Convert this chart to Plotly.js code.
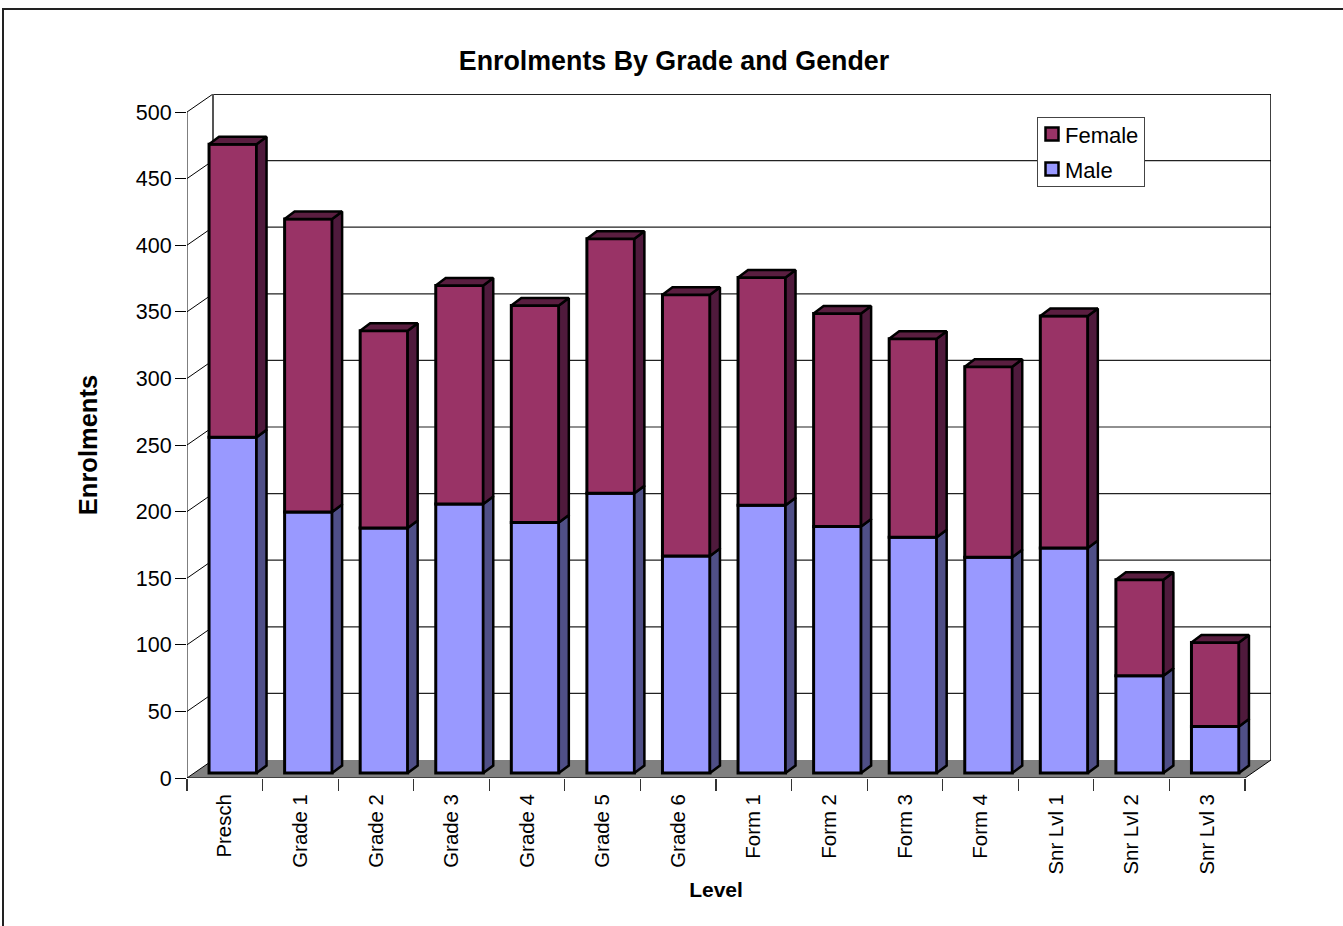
<!DOCTYPE html>
<html>
<head>
<meta charset="utf-8">
<script src="https://cdn.plot.ly/plotly-3.0.1.min.js"></script>
<style>
html,body{margin:0;padding:0;background:#fff;overflow:hidden}
#frame{position:absolute;left:2px;top:8px;width:1400px;height:1000px;border-left:2px solid #222;border-top:2px solid #222;box-sizing:border-box;pointer-events:none;z-index:2}
#chart{position:absolute;left:0;top:0;width:1343px;height:926px}
</style>
</head>
<body>
<div id="frame"></div>
<div id="chart"></div>
<script>
var categories = ["Presch","Grade 1","Grade 2","Grade 3","Grade 4","Grade 5","Grade 6","Form 1","Form 2","Form 3","Form 4","Snr Lvl 1","Snr Lvl 2","Snr Lvl 3"];
var male   = [252,196,184,202,188,210,163,201,185,177,162,169,73,35];
var female = [220,220,148,164,163,191,196,171,160,149,143,174,72,63];
var yTicks = [0,50,100,150,200,250,300,350,400,450,500];
var FONT = "Liberation Sans, Arial, sans-serif";

// plot geometry (pixels)
var L=187, R=1271, T=94, B=778;
var pxX = 1058/14, pxY = 666/500;
var xMin=-0.5, xMax=xMin+(R-L)/pxX, yMax=(B-T)/pxY, xFront=13.5;
// depth of the wall and of the bars in axis units
var wallDx=26/pxX, wallDy=18/pxY;
var barDx=10/pxX, barDy=7.5/pxY;
var offX=8/pxX, offY=5/pxY, barW=47.5/pxX;

var idx = categories.map(function(c,i){return i;});
var barX = idx.map(function(i){return i+offX;});
var maleBase = idx.map(function(){return offY;});
var femaleBase = male.map(function(m){return m+offY;});

function faces(base, vals, top){
  var xs=[], ys=[];
  idx.forEach(function(i){
    var x1=barX[i]+barW/2, x0=barX[i]-barW/2, b=base[i], t=base[i]+vals[i];
    if(top){
      xs.push(x0,x1,x1+barDx,x0+barDx,x0,null);
      ys.push(t,t,t+barDy,t+barDy,t,null);
    } else {
      xs.push(x1,x1+barDx,x1+barDx,x1,x1,null);
      ys.push(b,b+barDy,t+barDy,t,b,null);
    }
  });
  return {x:xs,y:ys};
}
function poly(f,color){
  return {type:"scatter",mode:"lines",x:f.x,y:f.y,fill:"toself",fillcolor:color,
    line:{color:"#000",width:2.5},showlegend:false,hoverinfo:"skip"};
}
var traces=[
  {type:"bar",name:"Male",x:barX,y:male,base:maleBase,width:barW,
   marker:{color:"#9999ff",line:{color:"#000",width:3}}},
  {type:"bar",name:"Female",x:barX,y:female,base:femaleBase,width:barW,
   marker:{color:"#993366",line:{color:"#000",width:3}}},
  poly(faces(maleBase,male,false),"#4f4f87"),
  poly(faces(femaleBase,female,false),"#4f1a3c"),
  poly(faces(femaleBase,female,true),"#5a1e40"),
  // carries the front-plane axes (ticks and axis titles)
  {type:"scatter",mode:"markers",x:[0],y:[0],xaxis:"x2",yaxis:"y2",marker:{opacity:0},showlegend:false,hoverinfo:"skip"}
];

function seg(x0,y0,x1,y1,color,w){
  return {type:"line",xref:"x",yref:"y",x0:x0,y0:y0,x1:x1,y1:y1,layer:"below",line:{color:color||"#000",width:w||1}};
}
var shapes=[{type:"path",xref:"x",yref:"y",layer:"below",fillcolor:"#808080",line:{color:"#808080",width:0},
  path:"M"+xMin+",0L"+xFront+",0L"+(xFront+wallDx)+","+wallDy+"L"+(xMin+wallDx)+","+wallDy+"Z"}];
yTicks.forEach(function(v){
  if(v>0) shapes.push(seg(xMin+wallDx,v+wallDy,xFront+wallDx,v+wallDy,"#222",v===500?2:1.2));
  shapes.push(seg(xMin,v,xMin+wallDx,v+wallDy,"#000",1));
});
shapes.push(seg(xMin,0,xMin,500,"#000",1));
shapes.push(seg(xMin,0,xFront,0,"#000",1));
shapes.push(seg(xFront,0,xFront+wallDx,wallDy,"#000",1));
shapes.push(seg(xMin+wallDx,wallDy,xMin+wallDx,500+wallDy,"#555",2));
shapes.push(seg(xFront+wallDx,wallDy,xFront+wallDx,500+wallDy,"#000",1.5));

var layout={
  width:1343,height:926,autosize:false,
  paper_bgcolor:"#fff",plot_bgcolor:"rgba(0,0,0,0)",
  margin:{l:L,r:1343-R,t:T,b:926-B,pad:0},
  barmode:"overlay",
  font:{family:FONT,color:"#000"},
  title:{text:"<b>Enrolments By Grade and Gender</b>",font:{family:FONT,size:26.8,color:"#000"},
    x:674/1343,xref:"container",xanchor:"center",y:1-61/926,yref:"container",yanchor:"middle"},
  xaxis:{type:"linear",range:[xMin,xMax],tickmode:"array",tickvals:idx,ticktext:categories,
    ticks:"",tickangle:-90,tickfont:{family:FONT,size:20.4,color:"#000"},ticklabelstandoff:11,
    showgrid:false,zeroline:false,showline:false,automargin:false},
  xaxis2:{type:"linear",domain:[0,(xFront-xMin)*pxX/(R-L)],anchor:"y2",side:"bottom",range:[xMin,xFront],tickmode:"array",
    tickvals:idx.map(function(i){return i-0.5;}).concat([xFront]),showticklabels:false,
    ticks:"outside",ticklen:12,tickcolor:"#333",tickwidth:1.2,showgrid:false,zeroline:false,showline:false,
    title:{text:"<b>Level</b>",font:{family:FONT,size:21,color:"#000"},standoff:92}},
  yaxis:{type:"linear",range:[0,yMax],ticks:"",showticklabels:false,showgrid:false,zeroline:false,showline:false,automargin:false},
  yaxis2:{type:"linear",domain:[0,500*pxY/(B-T)],anchor:"x2",range:[0,500],tickmode:"array",tickvals:yTicks,ticktext:yTicks.map(String),
    ticks:"outside",ticklen:11,ticklabelstandoff:-1,tickcolor:"#000",tickwidth:1,tickfont:{family:FONT,size:21.5,color:"#000"},
    showgrid:false,zeroline:false,showline:false,automargin:false,
    title:{text:"<b>Enrolments</b>",font:{family:FONT,size:25.5,color:"#000"},standoff:30}},
  legend:{x:(1037-L)/(R-L),y:(B-117)/(B-T),xanchor:"left",yanchor:"top",traceorder:"reversed",
    bgcolor:"#fff",bordercolor:"#444",borderwidth:1,font:{family:FONT,size:22,color:"#000"},itemwidth:30},
  shapes:shapes,
  showlegend:true,hovermode:false
};
Plotly.newPlot("chart",traces,layout,{displayModeBar:false,staticPlot:true}).then(function(gd){
  // tighten the native legend to the reference's compact key
  var root=gd.querySelector(".legend");
  var bg=root.querySelector("rect.bg");
  bg.setAttribute("width",107); bg.setAttribute("height",69);
  var rows=root.querySelectorAll("g.traces");
  rows.forEach(function(row,k){
    row.setAttribute("transform","translate(0,"+(k===0?17:52)+")");
    var t=row.querySelector(".legendtext"); if(t) t.setAttribute("x",28);
    row.querySelectorAll("text tspan").forEach(function(s){ if(s.getAttribute("x")) s.setAttribute("x",28); });
    var p=row.querySelector(".legendpoints path");
    if(p){ p.setAttribute("d","M6.5,6.5H-6.5V-6.5H6.5Z"); p.setAttribute("transform","translate(15,0)"); p.style.strokeWidth="2.5px"; }
  });
});
</script>
</body>
</html>
